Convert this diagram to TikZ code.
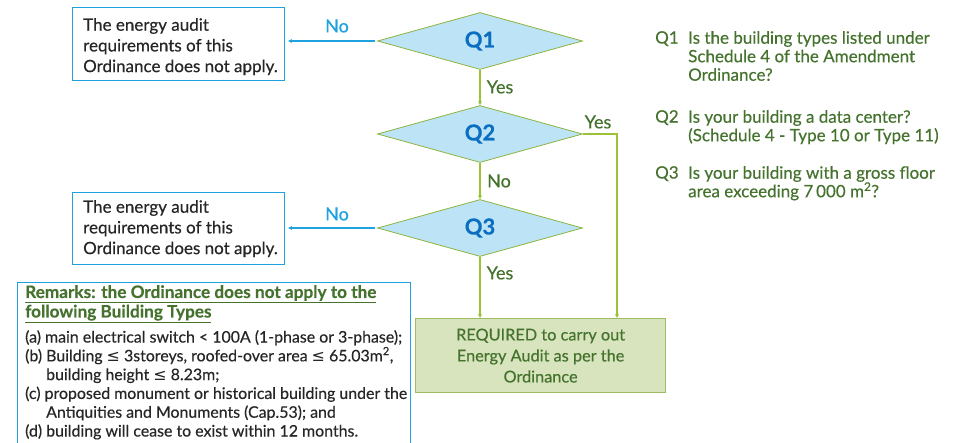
\documentclass[tikz,border=0pt]{standalone}
\usepackage{fontspec}
\setmainfont{Lato}[FakeBold=0.4]
\newfontfamily\symf{DejaVu Sans}
\usetikzlibrary{shapes.geometric,arrows.meta}
\definecolor{cyanb}{HTML}{1FA2DF}
\definecolor{dfill}{HTML}{BDE3F6}
\definecolor{dline}{HTML}{8CB43F}
\definecolor{conn}{HTML}{9CC23A}
\definecolor{qblue}{HTML}{0A6FC0}
\definecolor{dgreen}{HTML}{45732E}
\definecolor{rfill}{HTML}{D7E4BD}
\definecolor{rline}{HTML}{9EBD62}
\definecolor{gtext}{HTML}{262626}
\newcommand{\lesym}{{\symf ≤}}
\tikzset{
  infobox/.style={draw=cyanb, line width=1.2pt, minimum width=212pt, minimum height=73pt, anchor=north west},
  infotext/.style={text=gtext, font=\fontsize{17}{20.7}\selectfont, align=left, inner sep=0pt, anchor=north west},
  qdiam/.style={diamond, draw=dline, fill=dfill, line width=0.8pt, minimum width=205pt, minimum height=57pt, inner sep=0pt, text=qblue, font=\bfseries\fontsize{22}{22}\selectfont},
  gconn/.style={draw=conn, line width=1.2pt, -{Stealth[length=4pt,width=4pt]}},
  bconn/.style={draw=cyanb, line width=1.2pt, -{Stealth[length=4pt,width=4pt]}},
  nolab/.style={text=cyanb, font=\fontsize{18}{18}\selectfont, inner sep=0pt},
  yeslab/.style={text=dgreen, font=\fontsize{18}{18}\selectfont, inner sep=0pt},
  qtext/.style={text=dgreen, font=\fontsize{17}{18.5}\selectfont, align=left, inner sep=0pt, anchor=north west},
}
\begin{document}
\begin{tikzpicture}[x=1pt,y=-1pt]
\useasboundingbox (0,0) rectangle (955,443);
\clip (0,0) rectangle (955,443);

% left boxes
\node[infobox] (b1) at (72,7) {};
\node[infotext] (t1) at (83,18) {The energy audit\\requirements of this\\Ordinance does not apply.};
\node[infobox, minimum height=72pt] (b2) at (72,192) {};
\node[infotext] (t2) at (83,200) {The energy audit\\requirements of this\\Ordinance does not apply.};

% diamonds
\node[qdiam] (q1) at (480,41) {Q1};
\node[qdiam] (q2) at (480,134) {Q2};
\node[qdiam] (q3) at (480,228) {Q3};

% result
\node[draw=rline, fill=rfill, line width=1.2pt, minimum width=250pt, minimum height=74pt, anchor=north west, inner sep=0pt] (res) at (415,318) {};
\node[text=dgreen, font=\fontsize{16.3}{21}\selectfont, align=center, inner sep=0pt] (rt) at (res.center) {REQUIRED to carry out\\Energy Audit as per the\\Ordinance};

% connectors
\draw[gconn] (q1.south) -- (q2.north);
\draw[gconn] (q2.south) -- (q3.north);
\draw[gconn] (q3.south) -- (q3.south |- res.north);
\coordinate (c2) at (617,134);
\draw[gconn] (q2.east) -- (c2) -- (c2 |- res.north);
\draw[bconn, shorten <=2pt, shorten >=3pt] (q1.west) -- (q1.west -| b1.east);
\draw[bconn, shorten <=2pt, shorten >=3pt] (q3.west) -- (q3.west -| b2.east);

% labels
\node[nolab] (n1) at (337,26) {No};
\node[nolab] (n3) at (337,214) {No};
\node[yeslab] (y1) at (500,87) {Yes};
\node[yeslab] (y2) at (598,122) {Yes};
\node[yeslab] (n2) at (499,181) {No};
\node[yeslab] (y3) at (500,273) {Yes};

% right column
\node[qtext] (l1) at (655,31) {Q1};
\node[qtext] (d1) at (688,31) {Is the building types listed under\\Schedule 4 of the Amendment\\Ordinance?};
\node[qtext] (l2) at (655,110) {Q2};
\node[qtext] (d2) at (688,110) {Is your building a data center?\\(Schedule 4 - Type 10 or Type 11)};
\node[qtext] (l3) at (655,166) {Q3};
\node[qtext] (d3) at (688,166) {Is your building with a gross floor\\area exceeding 7\,000 m\textsuperscript{2}?};

% remarks
\node[draw=cyanb, line width=1.2pt, minimum width=393pt, minimum height=175pt, anchor=north west] (rem) at (17,282) {};
\node[text=dgreen, font=\bfseries\fontsize{17.2}{19.5}\selectfont, align=left, inner sep=0pt, anchor=north west] (rh) at (25,285) {\underline{Remarks: the Ordinance does not apply to the}\\\underline{following Building Types}};
\node[text=gtext, font=\fontsize{15.9}{18.8}\selectfont, align=left, inner sep=0pt, anchor=north west] (rb) at (25,330) {(a) main electrical switch < 100A (1-phase or 3-phase);\\(b) Building \lesym{} 3storeys, roofed-over area \lesym{} 65.03m\textsuperscript{2},\\\hspace*{21pt}building height \lesym{} 8.23m;\\(c) proposed monument or historical building under the\\\hspace*{21pt}Antiquities and Monuments (Cap.53); and\\(d) building will cease to exist within 12 months.};
\end{tikzpicture}
\end{document}
